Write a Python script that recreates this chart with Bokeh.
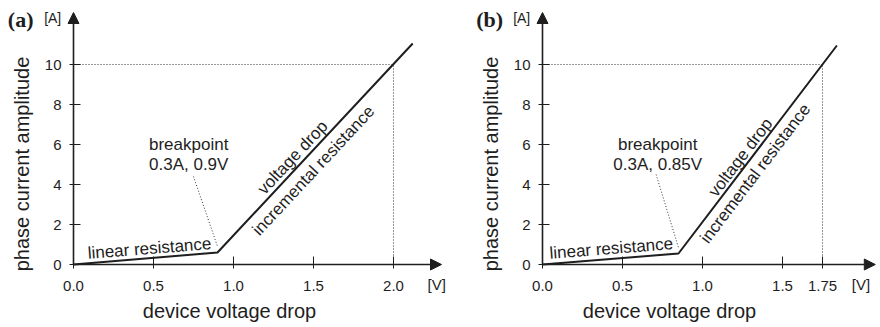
from bokeh.plotting import figure
from bokeh.models import Range1d, FixedTicker, Label, Arrow, NormalHead
from bokeh.layouts import row
from bokeh.embed import file_html
from bokeh.resources import INLINE

# ---- data ----
volt_a = [0.0, 0.9, 2.12]
curr_a = [0.0, 0.6, 11.05]
volt_b = [0.0, 0.85, 1.84]
curr_b = [0.0, 0.55, 10.95]
rated_current = 10
rated_volt_a = 2.0
rated_volt_b = 1.75
xticks_a = [0.0, 0.5, 1.0, 1.5, 2.0]
xlabels_a = ["0.0", "0.5", "1.0", "1.5", "2.0"]
xticks_b = [0.0, 0.5, 1.0, 1.5, 1.75]
xlabels_b = ["0.0", "0.5", "1.0", "1.5", "1.75"]
yticks = [0, 2, 4, 6, 8, 10]
ylabels = ["0", "2", "4", "6", "8", "10"]
bp_text_a = "0.3A, 0.9V"
bp_text_b = "0.3A, 0.85V"

INK = "#1e1e1e"
FONT = "Liberation Sans"
H = 327
PX_V = 160.0   # pixels per volt
PX_A = 20.0    # pixels per ampere
ORIGIN_Y = 264  # pixels from top of figure to the zero-current line


def make_panel(tag, volt, curr, rated_v, xticks, xlabels, bp_text, width,
               origin_x, xarrow, vlab_x, bp_lead, lin_pos, vd_pos, ir_pos, angle_deg):
    x0 = -origin_x / PX_V
    x1 = (width - origin_x) / PX_V
    y1 = ORIGIN_Y / PX_A
    y0 = -(H - ORIGIN_Y) / PX_A
    yarrow = (ORIGIN_Y - 12) / PX_A
    p = figure(width=width, height=H, output_backend="svg", toolbar_location=None,
               x_range=Range1d(x0, x1), y_range=Range1d(y0, y1),
               min_border_left=0, min_border_right=0, min_border_top=0,
               min_border_bottom=0)
    p.outline_line_color = None
    p.grid.visible = False
    for ax in (p.xaxis[0], p.yaxis[0]):
        ax.fixed_location = 0
        ax.axis_line_color = None
        ax.major_tick_line_color = INK
        ax.major_tick_line_width = 1
        ax.minor_tick_line_color = None
        ax.major_label_text_font = FONT
        ax.major_label_text_font_size = "15px"
        ax.major_label_text_color = INK
        ax.axis_label_text_font = FONT
        ax.axis_label_text_font_size = "20px"
        ax.axis_label_text_font_style = "normal"
        ax.axis_label_text_color = INK
        ax.major_tick_out = 4
    p.xaxis.ticker = FixedTicker(ticks=xticks)
    p.xaxis.major_label_overrides = {t: l for t, l in zip(xticks, xlabels)}
    p.xaxis.major_tick_in = 8
    p.xaxis.major_label_standoff = 12
    p.xaxis.axis_label = "device voltage drop"
    p.xaxis.axis_label_standoff = 6
    p.yaxis.ticker = FixedTicker(ticks=yticks)
    p.yaxis.major_label_overrides = {t: l for t, l in zip(yticks, ylabels)}
    p.yaxis.major_tick_in = 7
    p.yaxis.major_label_standoff = 8
    p.yaxis.axis_label = "phase current amplitude"
    p.yaxis.axis_label_standoff = 9

    # rated point dotted guides
    p.line([0, rated_v], [rated_current, rated_current], line_color="#333333",
           line_width=1, line_dash="1 2")
    p.line([rated_v, rated_v], [0, rated_current], line_color="#333333",
           line_width=1, line_dash="1 2")
    # breakpoint leader
    p.line([bp_lead[0], volt[1]], [bp_lead[1], curr[1] + 0.3], line_color="#333333",
           line_width=1, line_dash="1 2")
    # characteristic
    p.line(volt, curr, line_color=INK, line_width=2)

    # axes with arrow heads
    head = dict(size=11, fill_color=INK, line_color=INK)
    p.add_layout(Arrow(end=NormalHead(**head), x_start=0, y_start=0, x_end=xarrow,
                       y_end=0, line_width=1.6, line_color=INK))
    p.add_layout(Arrow(end=NormalHead(**head), x_start=0, y_start=0, x_end=0,
                       y_end=yarrow, line_width=1.6, line_color=INK))

    def lab(x, y, t, size="17px", angle=0.0, font=FONT, style="normal"):
        p.add_layout(Label(x=x, y=y, text=t, text_font=font, text_font_size=size,
                           text_color=INK, text_align="center", text_baseline="middle",
                           angle=angle, angle_units="deg", text_font_style=style))

    lab(-0.33, 12.25, tag, size="22px", font="Liberation Serif", style="bold")
    lab(-0.13, 12.35, "[A]", size="14px")
    lab(vlab_x, -1.0, "[V]", size="15px")
    lab(0.72, 6.0, "breakpoint")
    lab(0.72, 5.0, bp_text)
    lab(lin_pos[0], lin_pos[1], "linear resistance", angle=4.5)
    lab(vd_pos[0], vd_pos[1], "voltage drop", angle=angle_deg)
    lab(ir_pos[0], ir_pos[1], "incremental resistance", angle=angle_deg)
    return p


pa = make_panel("(a)", volt_a, curr_a, rated_volt_a, xticks_a, xlabels_a, bp_text_a,
                width=458, origin_x=73, xarrow=2.30, vlab_x=2.27, bp_lead=(0.75, 4.4),
                lin_pos=(0.475, 0.8), vd_pos=(1.37, 5.35), ir_pos=(1.5, 4.7),
                angle_deg=47)
pb = make_panel("(b)", volt_b, curr_b, rated_volt_b, xticks_b, xlabels_b, bp_text_b,
                width=422, origin_x=84, xarrow=2.08, vlab_x=1.99, bp_lead=(0.71, 4.5),
                lin_pos=(0.43, 0.8), vd_pos=(1.2375, 5.35), ir_pos=(1.33, 4.55),
                angle_deg=52.7)

layout = row(pa, pb)
open("out.html", "w").write(file_html(layout, INLINE))
